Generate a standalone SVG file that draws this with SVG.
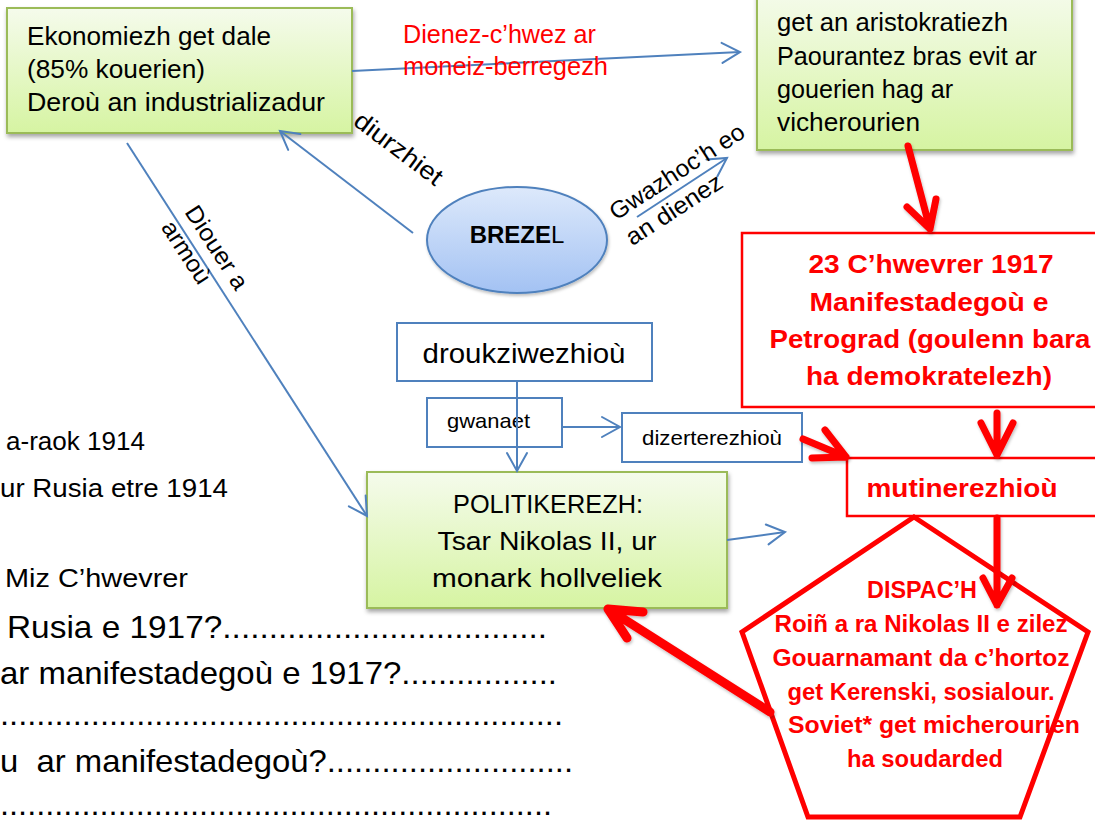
<svg xmlns="http://www.w3.org/2000/svg" width="1095" height="822" viewBox="0 0 1095 822">
<defs>
<linearGradient id="gGreen" x1="0" y1="0" x2="0" y2="1"><stop offset="0" stop-color="#f5fbec"/><stop offset="1" stop-color="#d6f4a2"/></linearGradient>
<linearGradient id="gBlue" x1="0" y1="0" x2="0" y2="1"><stop offset="0" stop-color="#dde9fb"/><stop offset="1" stop-color="#a3c2f3"/></linearGradient>
<filter id="sh" x="-10%" y="-10%" width="125%" height="140%"><feDropShadow dx="1" dy="3" stdDeviation="2" flood-color="#000" flood-opacity="0.35"/></filter>
<filter id="shr" x="-20%" y="-20%" width="140%" height="140%"><feDropShadow dx="1" dy="2" stdDeviation="1.5" flood-color="#000" flood-opacity="0.25"/></filter>
<marker id="ba" markerUnits="userSpaceOnUse" markerWidth="24" markerHeight="24" refX="20" refY="11" orient="auto" overflow="visible"><path d="M2,1 L20,11 L2,21" fill="none" stroke="#4f81bd" stroke-width="2" stroke-linecap="round"/></marker>
</defs>
<style>
.t{font-family:"Liberation Sans",Arial,sans-serif;fill:#000}
.rt{font-family:"Liberation Sans",Arial,sans-serif;fill:#ff0000;font-weight:bold}
.rl{font-family:"Liberation Sans",Arial,sans-serif;fill:#ff0000}
.green{fill:url(#gGreen);stroke:#9bbb59;stroke-width:2}
.bbox{fill:#fff;stroke:#4f81bd;stroke-width:2}
.rbox{fill:#fff;stroke:#ff0000;stroke-width:2.5}
.bl{fill:none;stroke:#4f81bd;stroke-width:2;marker-end:url(#ba)}
.ra{fill:none;stroke:#ff0000;stroke-width:7;stroke-linecap:round;stroke-linejoin:round}
</style>
<rect width="1095" height="822" fill="#fff"/>

<g id="ekonomiezh">
<rect class="green" x="7" y="8" width="345" height="125" filter="url(#sh)"/>
<text class="t" x="27" y="45" font-size="25" textLength="244" lengthAdjust="spacingAndGlyphs">Ekonomiezh get dale</text>
<text class="t" x="27" y="78" font-size="25" textLength="178" lengthAdjust="spacingAndGlyphs">(85% kouerien)</text>
<text class="t" x="27" y="111" font-size="25" textLength="298" lengthAdjust="spacingAndGlyphs">Deroù an industrializadur</text>
</g>

<g id="aristokratiezh">
<rect class="green" x="757" y="-10" width="315" height="160" filter="url(#sh)"/>
<text class="t" x="777" y="31" font-size="25" textLength="231" lengthAdjust="spacingAndGlyphs">get an aristokratiezh</text>
<text class="t" x="777" y="65" font-size="25" textLength="260" lengthAdjust="spacingAndGlyphs">Paourantez bras evit ar</text>
<text class="t" x="777" y="98" font-size="25" textLength="176" lengthAdjust="spacingAndGlyphs">gouerien hag ar</text>
<text class="t" x="777" y="131" font-size="25" textLength="143" lengthAdjust="spacingAndGlyphs">vicherourien</text>
</g>

<g id="brezel">
<ellipse cx="517" cy="240" rx="90" ry="53" fill="url(#gBlue)" stroke="#4f81bd" stroke-width="2" filter="url(#shr)"/>
<text class="t" x="517" y="243" font-size="24" text-anchor="middle"><tspan font-weight="bold">BREZE</tspan>L</text>
</g>

<g id="manifestadegou">
<rect class="rbox" x="742" y="233" width="360" height="174"/>
<text class="rt" x="931" y="273" font-size="26" text-anchor="middle" textLength="245" lengthAdjust="spacingAndGlyphs">23 C’hwevrer 1917</text>
<text class="rt" x="929" y="311" font-size="26" text-anchor="middle" textLength="239" lengthAdjust="spacingAndGlyphs">Manifestadegoù e</text>
<text class="rt" x="930" y="348" font-size="26" text-anchor="middle" textLength="321" lengthAdjust="spacingAndGlyphs">Petrograd (goulenn bara</text>
<text class="rt" x="929" y="385" font-size="26" text-anchor="middle" textLength="246" lengthAdjust="spacingAndGlyphs">ha demokratelezh)</text>
</g>

<g id="droukziwezhiou">
<rect class="bbox" x="397" y="323" width="255" height="58"/>
<text class="t" x="524" y="363" font-size="27" text-anchor="middle" textLength="203" lengthAdjust="spacingAndGlyphs">droukziwezhioù</text>
</g>

<g id="gwanaet">
<rect class="bbox" x="427" y="398" width="135" height="49"/>
<text class="t" x="447" y="428" font-size="21" textLength="83" lengthAdjust="spacingAndGlyphs">gwanaet</text>
</g>

<g id="dizerterezhiou">
<rect class="bbox" x="622" y="413" width="180" height="49"/>
<text class="t" x="642" y="445" font-size="21" textLength="140" lengthAdjust="spacingAndGlyphs">dizerterezhioù</text>
</g>

<g id="mutinerezhiou">
<rect class="rbox" x="847" y="458" width="255" height="58"/>
<text class="rt" x="962" y="497" font-size="26" text-anchor="middle" textLength="191" lengthAdjust="spacingAndGlyphs">mutinerezhioù</text>
</g>

<g id="politikerezh">
<rect class="green" x="367" y="472" width="360" height="136" filter="url(#sh)"/>
<text class="t" x="548" y="513" font-size="25" text-anchor="middle" textLength="190" lengthAdjust="spacingAndGlyphs">POLITIKEREZH:</text>
<text class="t" x="547" y="550" font-size="25" text-anchor="middle" textLength="219" lengthAdjust="spacingAndGlyphs">Tsar Nikolas II, ur</text>
<text class="t" x="547" y="587" font-size="25" text-anchor="middle" textLength="230" lengthAdjust="spacingAndGlyphs">monark hollveliek</text>
</g>

<g id="dispach">
<polygon points="914,517 1088,632 1020,817 808,817 742,632" fill="#fff" stroke="#ff0000" stroke-width="5" stroke-linejoin="miter"/>
<text class="rt" x="922" y="598" font-size="23" text-anchor="middle" textLength="110" lengthAdjust="spacingAndGlyphs">DISPAC’H</text>
<text class="rt" x="921" y="632" font-size="23" text-anchor="middle" textLength="293" lengthAdjust="spacingAndGlyphs">Roiñ a ra Nikolas II e zilez</text>
<text class="rt" x="921" y="666" font-size="23" text-anchor="middle" textLength="297" lengthAdjust="spacingAndGlyphs">Gouarnamant da c’hortoz</text>
<text class="rt" x="921" y="700" font-size="23" text-anchor="middle" textLength="267" lengthAdjust="spacingAndGlyphs">get Kerenski, sosialour.</text>
<text class="rt" x="934" y="733" font-size="23" text-anchor="middle" textLength="292" lengthAdjust="spacingAndGlyphs">Soviet* get micherourien</text>
<text class="rt" x="925" y="767" font-size="23" text-anchor="middle" textLength="156" lengthAdjust="spacingAndGlyphs">ha soudarded</text>
</g>

<g id="connectors">
<path class="bl" d="M352,71 L740,52"/>
<path class="bl" d="M413,233 L280,131"/>
<path class="bl" d="M127,143 L367,516"/>
<path class="bl" d="M637,217 L727,158"/>
<path class="bl" d="M517,381 L517,471"/>
<path class="bl" d="M562,427 L620,427"/>
<path class="bl" d="M727,540 L785,532"/>
<g filter="url(#shr)">
<path class="ra" d="M908,146 L930,229 M907,207 L930,229 L936,199"/>
<path class="ra" d="M997,413 L997,455 M981,423 L997,455 L1013,423"/>
<path class="ra" d="M803,439 L846,457 M825,430 L846,457 L812,458"/>
<path class="ra" d="M997,518 L997,605 M983,578 L997,605 L1012,578"/>
<path class="ra" style="stroke-width:9" d="M770,712 L608,609 M643,612 L608,609 L627,638"/>
</g>
</g>

<g id="labels">
<text class="rl" x="403" y="43" font-size="25" textLength="193" lengthAdjust="spacingAndGlyphs">Dienez-c’hwez ar</text>
<text class="rl" x="403" y="75" font-size="25" textLength="205" lengthAdjust="spacingAndGlyphs">moneiz-berregezh</text>
<text class="t" transform="translate(352,124) rotate(37)" font-size="25" textLength="104" lengthAdjust="spacingAndGlyphs">diurzhiet</text>
<g transform="translate(616,221) rotate(-33)">
<text class="t" x="0" y="0" font-size="24" textLength="156" lengthAdjust="spacingAndGlyphs">Gwazhoc’h eo</text>
<text class="t" x="0" y="30" font-size="24" textLength="110" lengthAdjust="spacingAndGlyphs">an dienez</text>
</g>
<g transform="translate(184,212) rotate(57)">
<text class="t" x="0" y="0" font-size="24" textLength="95" lengthAdjust="spacingAndGlyphs">Diouer a</text>
<text class="t" x="0" y="28" font-size="24" textLength="70" lengthAdjust="spacingAndGlyphs">armoù</text>
</g>
</g>

<g id="questions">
<text class="t" x="6" y="450" font-size="26" textLength="139" lengthAdjust="spacingAndGlyphs">a-raok 1914</text>
<text class="t" x="0" y="497" font-size="26" textLength="228" lengthAdjust="spacingAndGlyphs">ur Rusia etre 1914</text>
<text class="t" x="5" y="587" font-size="26" textLength="183" lengthAdjust="spacingAndGlyphs">Miz C’hwevrer</text>
<text class="t" x="7" y="638" font-size="32" textLength="540" lengthAdjust="spacingAndGlyphs">Rusia e 1917?...................................</text>
<text class="t" x="0" y="684" font-size="32" textLength="557" lengthAdjust="spacingAndGlyphs">ar manifestadegoù e 1917?.................</text>
<text class="t" x="0" y="725" font-size="32" textLength="563" lengthAdjust="spacingAndGlyphs">..............................................................</text>
<text class="t" x="0" y="772" font-size="32" xml:space="preserve" textLength="573" lengthAdjust="spacingAndGlyphs">u  ar manifestadegoù?...........................</text>
<text class="t" x="0" y="815" font-size="32" textLength="552" lengthAdjust="spacingAndGlyphs">.............................................................</text>
</g>
</svg>
